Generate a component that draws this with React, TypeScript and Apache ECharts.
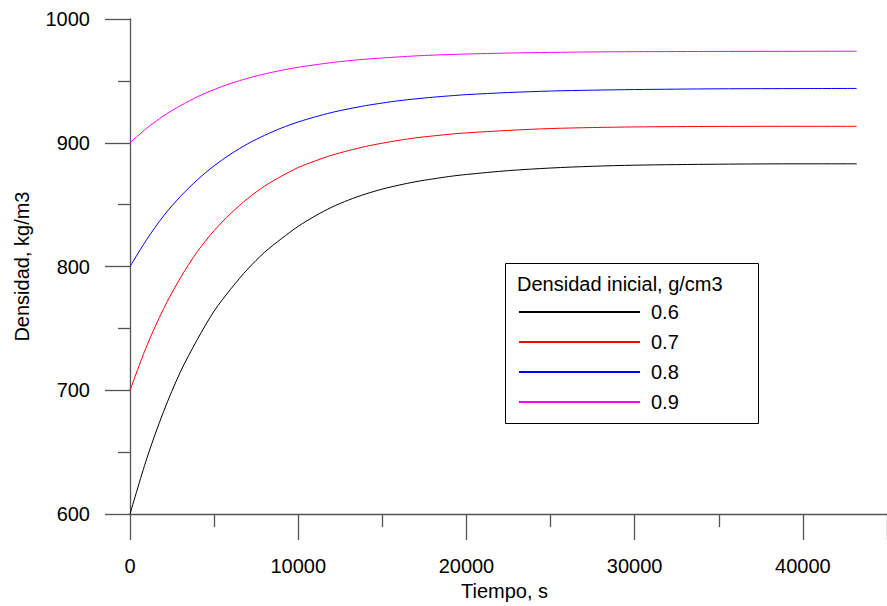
import React, { useEffect, useRef } from "react";
import * as echarts from "echarts";

// Time samples (s)
const tiempo = [
  0, 1000, 2000, 3000, 4000, 5000, 6000, 7000, 8000, 9000, 10000, 11000,
  12000, 13000, 14000, 15000, 16000, 17000, 18000, 19000, 20000, 22500, 25000,
  27500, 30000, 35000, 40000, 43200,
];

// Density (kg/m3) for each initial density (g/cm3)
const dens06 = [
  600, 645, 683, 715, 741, 764, 782, 798, 811.5, 822.5, 832.5, 840.8, 848,
  853.8, 858.6, 862.6, 865.8, 868.6, 870.8, 872.8, 874.4, 877.5, 879.6, 881,
  881.9, 882.7, 883, 883,
];
const dens07 = [
  700, 736, 766, 791, 812, 829, 843, 855, 865, 873, 880, 885.3, 890, 893.7,
  897, 899.7, 902, 904, 905.5, 906.9, 908, 910, 911.5, 912.3, 912.8, 913.2,
  913.3, 913.3,
];
const dens08 = [
  800, 822, 841, 856.7, 870, 881.4, 891, 899.2, 906, 911.9, 916.8, 920.9,
  924.5, 927.4, 930, 932.1, 934, 935.5, 936.8, 937.9, 938.9, 940.6, 941.8,
  942.5, 943, 943.6, 943.8, 943.9,
];
const dens09 = [
  900, 911.8, 921.8, 930, 937.1, 943, 948, 952.1, 955.6, 958.5, 961, 963,
  964.8, 966.3, 967.5, 968.5, 969.4, 970.2, 970.8, 971.3, 971.7, 972.5, 973,
  973.4, 973.6, 973.8, 973.9, 974,
];

const seriesNames = ["0.6", "0.7", "0.8", "0.9"];
const seriesValues = [dens06, dens07, dens08, dens09];
const seriesColors = ["#000000", "#ff0000", "#0000ff", "#ff00ff"];

const legendTitle = "Densidad inicial, g/cm3";
const xName = "Tiempo, s";
const yName = "Densidad, kg/m3";

const FONT = "Arial, 'Liberation Sans', sans-serif";
const FS = 20;
const AXIS_COLOR = "#555555";

export default function App() {
  const ref = useRef<HTMLDivElement>(null);

  useEffect(() => {
    if (!ref.current) return;
    const chart = echarts.init(ref.current, null, { renderer: "svg" });

    const series = seriesNames.map((name, i) => ({
      name,
      type: "line",
      smooth: 0.3,
      symbol: "none",
      showSymbol: false,
      data: tiempo.map((t, k) => [t, seriesValues[i][k]]),
      lineStyle: { color: seriesColors[i], width: 1 },
      itemStyle: { color: seriesColors[i] },
    }));

    const plain = (v: number) => String(v);

    chart.setOption({
      animation: false,
      backgroundColor: "#ffffff",
      grid: { left: 130, top: 19, width: 765, height: 504 },
      xAxis: {
        type: "value",
        min: 0,
        max: 45000,
        interval: 10000,
        name: xName,
        nameLocation: "middle",
        nameGap: 61,
        nameTextStyle: {
          fontFamily: FONT,
          fontSize: FS,
          color: "#000",
          padding: [0, 8, 0, 0],
        },
        axisLine: { lineStyle: { color: AXIS_COLOR, width: 1.3 } },
        axisTick: { length: 26, lineStyle: { color: AXIS_COLOR, width: 1.3 } },
        minorTick: {
          show: true,
          splitNumber: 2,
          length: 13,
          lineStyle: { color: AXIS_COLOR, width: 1.3 },
        },
        axisLabel: {
          margin: 42,
          fontFamily: FONT,
          fontSize: FS,
          color: "#000",
          showMaxLabel: false,
          formatter: plain,
        },
        splitLine: { show: false },
      },
      yAxis: {
        type: "value",
        min: 600,
        max: 1000,
        interval: 100,
        name: yName,
        nameLocation: "middle",
        nameGap: 98,
        nameTextStyle: { fontFamily: FONT, fontSize: FS, color: "#000" },
        axisLine: { lineStyle: { color: AXIS_COLOR, width: 1.3 } },
        axisTick: { length: 25, lineStyle: { color: AXIS_COLOR, width: 1.3 } },
        minorTick: {
          show: true,
          splitNumber: 2,
          length: 12,
          lineStyle: { color: AXIS_COLOR, width: 1.3 },
        },
        axisLabel: {
          margin: 40,
          fontFamily: FONT,
          fontSize: FS,
          color: "#000",
          formatter: plain,
        },
        splitLine: { show: false },
      },
      legend: {
        orient: "vertical",
        left: 513,
        top: 297,
        itemWidth: 121,
        itemHeight: 20,
        itemGap: 10,
        data: seriesNames,
        itemStyle: { opacity: 0 },
        textStyle: {
          fontFamily: FONT,
          fontSize: FS,
          color: "#000",
          padding: [0, 0, 0, 6],
        },
      },
      graphic: [
        {
          type: "rect",
          left: 503,
          top: 261,
          shape: { width: 253, height: 160 },
          style: { fill: "none", stroke: "#000", lineWidth: 1 },
          z: 10,
        },
        {
          type: "text",
          left: 517,
          top: 274,
          style: {
            text: legendTitle,
            font: `${FS}px ${FONT}`,
            fill: "#000",
          },
          z: 10,
        },
      ],
      series,
    });

    return () => chart.dispose();
  }, []);

  return (
    <div
      ref={ref}
      style={{ position: "absolute", left: 0, top: 0, width: 887, height: 606 }}
    />
  );
}
